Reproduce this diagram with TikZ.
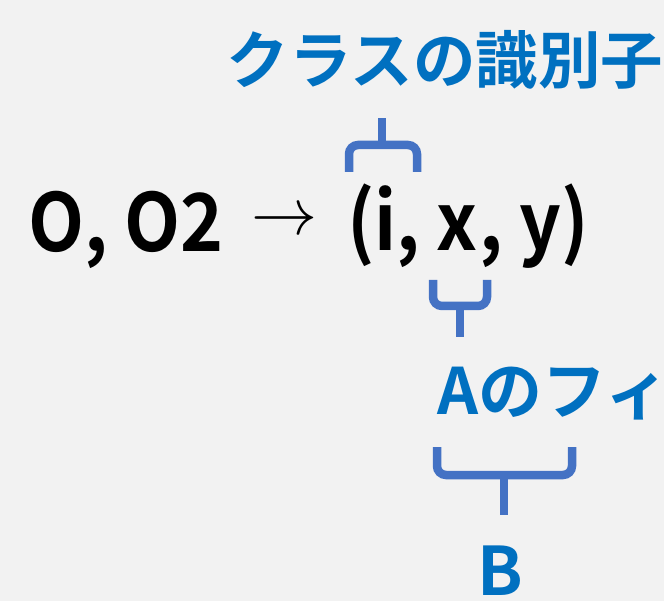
\documentclass[tikz,border=0pt]{standalone}
\usepackage{graphicx}
\usepackage{fontspec}
\newfontfamily\jp{Noto Sans CJK JP}[BoldFont={Noto Sans CJK JP Bold}]
\newfontfamily\jpn{Noto Sans CJK JP Bold}[FakeStretch=0.91]
\definecolor{bg}{HTML}{F2F2F2}
\definecolor{lblue}{HTML}{0070C0}
\definecolor{bblue}{HTML}{4472C4}
\begin{document}
\begin{tikzpicture}[x=1pt,y=-1pt,
  lbl/.style={inner sep=0pt,text=lblue,font=\jp\bfseries\fontsize{62.5}{62.5}\selectfont},
  mainline/.style={inner sep=0pt,text=black,font=\jpn\fontsize{80}{80}\selectfont},
  bracepath/.style={draw=bblue,line width=8.5pt,rounded corners=9pt,line cap=butt}]
\fill[bg] (0,0) rectangle (664,601);
\useasboundingbox (0,0) rectangle (664,601);
% main line
\node[mainline,anchor=base west] (lhs) at (28,252) {O, O2};
\node[inner sep=0pt] (arr) at (284.5,222) {\scalebox{6.6}{$\rightarrow$}};
\node[mainline,anchor=base west] (rhs) at (347,251) {(i, x, y)};
% top label and brace
\node[lbl] (cls) at (445,60) {クラスの識別子};
\coordinate (t1) at (382,118);
\draw[bracepath] (349,172) |- (382,145) -| (417,172);
\draw[bracepath] (382,145) -- (t1);
% middle brace and label
\coordinate (t2) at (460,337);
\draw[bracepath] (433,280) |- (460,306) -| (487,280);
\draw[bracepath] (460,306) -- (t2);
\node[lbl,anchor=base west,font=\jp\bfseries\fontsize{64}{64}\selectfont] (af) at (437,415) {Aのフィ};
% bottom brace and label
\coordinate (t3) at (504,515);
\draw[bracepath] (437,447) |- (504,475) -| (572,447);
\draw[bracepath] (504,475) -- (t3);
\node[lbl,anchor=base,font=\jp\bfseries\fontsize{67}{67}\selectfont] (b) at (500,595) {B};
\end{tikzpicture}
\end{document}
